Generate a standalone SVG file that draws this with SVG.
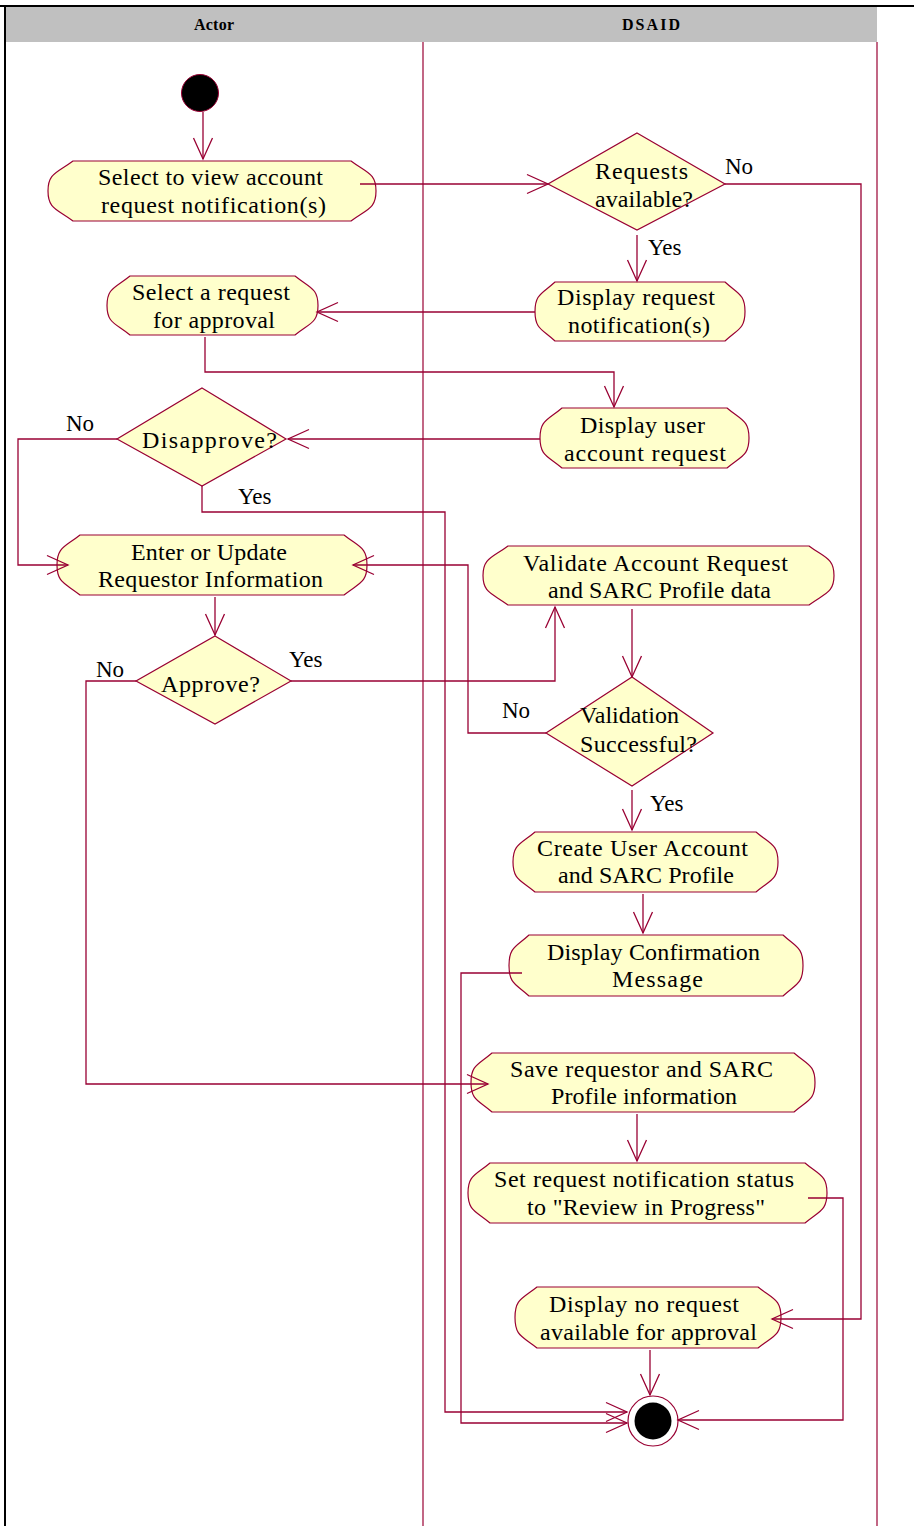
<svg xmlns="http://www.w3.org/2000/svg" width="914" height="1526" viewBox="0 0 914 1526">
<defs>
<style>
.node{fill:#FFFFCC;stroke:#990033;stroke-width:1.2}
.t{font-family:"Liberation Serif","Times New Roman",serif;font-size:24px;fill:#000}
.l{font-family:"Liberation Serif","Times New Roman",serif;font-size:23px;fill:#000}
.h{font-family:"Liberation Serif","Times New Roman",serif;font-size:16px;font-weight:bold;fill:#000}
.c{fill:none;stroke:#990033;stroke-width:1.3;marker-end:url(#arr)}
.lane{stroke:#990033;stroke-width:1.2;fill:none}
</style>
<marker id="arr" markerUnits="userSpaceOnUse" markerWidth="30" markerHeight="30" viewBox="-25 -15 30 30" refX="0" refY="0" orient="auto" overflow="visible">
<path d="M-21,-9.5 L0,0 L-21,9.5" fill="none" stroke="#990033" stroke-width="1.3"/>
</marker>
</defs>
<rect x="0" y="0" width="914" height="1526" fill="#fff"/>
<g id="swimlanes">
<rect x="5" y="7" width="872" height="35" fill="#C0C0C0"/>
<line x1="0" y1="6" x2="914" y2="6" stroke="#000" stroke-width="2"/>
<line x1="5" y1="5" x2="5" y2="1526" stroke="#000" stroke-width="2"/>
<line class="lane" x1="423" y1="42" x2="423" y2="1526"/>
<line class="lane" x1="877" y1="42" x2="877" y2="1526"/>
<text class="h" x="194" y="30" textLength="40">Actor</text>
<text class="h" x="622" y="30" textLength="58">DSAID</text>
</g>
<g id="start"><circle cx="200" cy="93" r="18.5" fill="#000" stroke="#990033" stroke-width="1"/></g>
<g id="n1">
<path class="node" d="M73,161 H351 C367,173 376,173 376,191 C376,209 367,209 351,221 H73 C57,209 48,209 48,191 C48,173 57,173 73,161 Z"/>
<text class="t" x="98" y="185" textLength="225">Select to view account</text>
<text class="t" x="101" y="213" textLength="225">request notification(s)</text>
</g>
<g id="d1">
<polygon class="node" points="637,133 725,184 637,230 548,184"/>
<text class="t" x="595" y="179" textLength="93">Requests</text>
<text class="t" x="595" y="207" textLength="98">available?</text>
</g>
<g id="n2">
<path class="node" d="M555,282 H725 C738,294 745,294 745,311.5 C745,329 738,329 725,341 H555 C542,329 535,329 535,311.5 C535,294 542,294 555,282 Z"/>
<text class="t" x="557" y="305" textLength="158">Display request</text>
<text class="t" x="568" y="333" textLength="142">notification(s)</text>
</g>
<g id="n3">
<path class="node" d="M130,276 H295 C310,288 318,288 318,305.5 C318,323 310,323 295,335 H130 C115,323 107,323 107,305.5 C107,288 115,288 130,276 Z"/>
<text class="t" x="132" y="300" textLength="158">Select a request</text>
<text class="t" x="153" y="328" textLength="122">for approval</text>
</g>
<g id="n4">
<path class="node" d="M562,408 H727 C741,420 749,420 749,438 C749,456 741,456 727,468 H562 C548,456 540,456 540,438 C540,420 548,420 562,408 Z"/>
<text class="t" x="580" y="433" textLength="125">Display user</text>
<text class="t" x="564" y="461" textLength="162">account request</text>
</g>
<g id="d2">
<polygon class="node" points="202,388 286,439 202,486 117,439"/>
<text class="t" x="142" y="448" textLength="135">Disapprove?</text>
</g>
<g id="n5">
<path class="node" d="M80,535 H344 C359,547 367,547 367,565 C367,583 359,583 344,595 H80 C65,583 57,583 57,565 C57,547 65,547 80,535 Z"/>
<text class="t" x="131" y="560" textLength="156">Enter or Update</text>
<text class="t" x="98" y="587" textLength="225">Requestor Information</text>
</g>
<g id="n6">
<path class="node" d="M508,546 H809 C825,558 834,558 834,575.5 C834,593 825,593 809,605 H508 C492,593 483,593 483,575.5 C483,558 492,558 508,546 Z"/>
<text class="t" x="523" y="571" textLength="265">Validate Account Request</text>
<text class="t" x="548" y="598" textLength="223">and SARC Profile data</text>
</g>
<g id="d3">
<polygon class="node" points="215,636 291,681 215,724 136,681"/>
<text class="t" x="161" y="692" textLength="99">Approve?</text>
</g>
<g id="d4">
<polygon class="node" points="632,677 713,733 632,786 546,733"/>
<text class="t" x="580" y="723" textLength="99">Validation</text>
<text class="t" x="580" y="752" textLength="117">Successful?</text>
</g>
<g id="n7">
<path class="node" d="M535,832 H756 C770,844 778,844 778,862 C778,880 770,880 756,892 H535 C521,880 513,880 513,862 C513,844 521,844 535,832 Z"/>
<text class="t" x="537" y="856" textLength="211">Create User Account</text>
<text class="t" x="558" y="883" textLength="176">and SARC Profile</text>
</g>
<g id="n8">
<path class="node" d="M529,935 H783 C796,947 803,947 803,965.5 C803,984 796,984 783,996 H529 C516,984 509,984 509,965.5 C509,947 516,947 529,935 Z"/>
<text class="t" x="547" y="960" textLength="213">Display Confirmation</text>
<text class="t" x="612" y="987" textLength="91">Message</text>
</g>
<g id="n9">
<path class="node" d="M492,1053 H794 C808,1065 815,1065 815,1082.5 C815,1100 808,1100 794,1112 H492 C478,1100 471,1100 471,1082.5 C471,1065 478,1065 492,1053 Z"/>
<text class="t" x="510" y="1077" textLength="263">Save requestor and SARC</text>
<text class="t" x="551" y="1104" textLength="186">Profile information</text>
</g>
<g id="n10">
<path class="node" d="M490,1163 H805 C819,1175 827,1175 827,1193 C827,1211 819,1211 805,1223 H490 C476,1211 468,1211 468,1193 C468,1175 476,1175 490,1163 Z"/>
<text class="t" x="494" y="1187" textLength="300">Set request notification status</text>
<text class="t" x="527" y="1215" textLength="238">to "Review in Progress"</text>
</g>
<g id="n11">
<path class="node" d="M537,1287 H758 C773,1299 781,1299 781,1317.5 C781,1336 773,1336 758,1348 H537 C522,1336 515,1336 515,1317.5 C515,1299 522,1299 537,1287 Z"/>
<text class="t" x="549" y="1312" textLength="190">Display no request</text>
<text class="t" x="540" y="1340" textLength="217">available for approval</text>
</g>
<g id="end">
<circle cx="653" cy="1421" r="25" fill="#fff" stroke="#990033" stroke-width="1.2"/>
<circle cx="653" cy="1421" r="18.5" fill="#000"/>
</g>
<g id="connectors">
<polyline class="c" points="203,112 203,159"/>
<polyline class="c" points="360,184 548,184"/>
<polyline class="c" points="725,184 861,184 861,1319 772,1319"/>
<polyline class="c" points="637,235 637,281"/>
<polyline class="c" points="535,312 317,312"/>
<polyline class="c" points="205,337 205,372 614,372 614,407"/>
<polyline class="c" points="540,439 288,439"/>
<polyline class="c" points="117,439 18,439 18,565 68,565"/>
<polyline class="c" points="202,486 202,512 445,512 445,1412 627,1412"/>
<polyline class="c" points="215,597 215,635"/>
<polyline class="c" points="136,681 86,681 86,1084 488,1084"/>
<polyline class="c" points="291,681 555,681 555,607"/>
<polyline class="c" points="632,609 632,677"/>
<polyline class="c" points="546,733 468,733 468,565 353,565"/>
<polyline class="c" points="632,790 632,830"/>
<polyline class="c" points="643,894 643,933"/>
<polyline class="c" points="522,973 461,973 461,1423 627,1423"/>
<polyline class="c" points="637,1114 637,1161"/>
<polyline class="c" points="808,1198 843,1198 843,1420 678,1420"/>
<polyline class="c" points="650,1350 650,1395"/>
</g>
<g id="labels">
<text class="l" x="725" y="174">No</text>
<text class="l" x="648" y="255">Yes</text>
<text class="l" x="66" y="431">No</text>
<text class="l" x="238" y="504">Yes</text>
<text class="l" x="96" y="677">No</text>
<text class="l" x="289" y="667">Yes</text>
<text class="l" x="502" y="718">No</text>
<text class="l" x="650" y="811">Yes</text>
</g>
</svg>
